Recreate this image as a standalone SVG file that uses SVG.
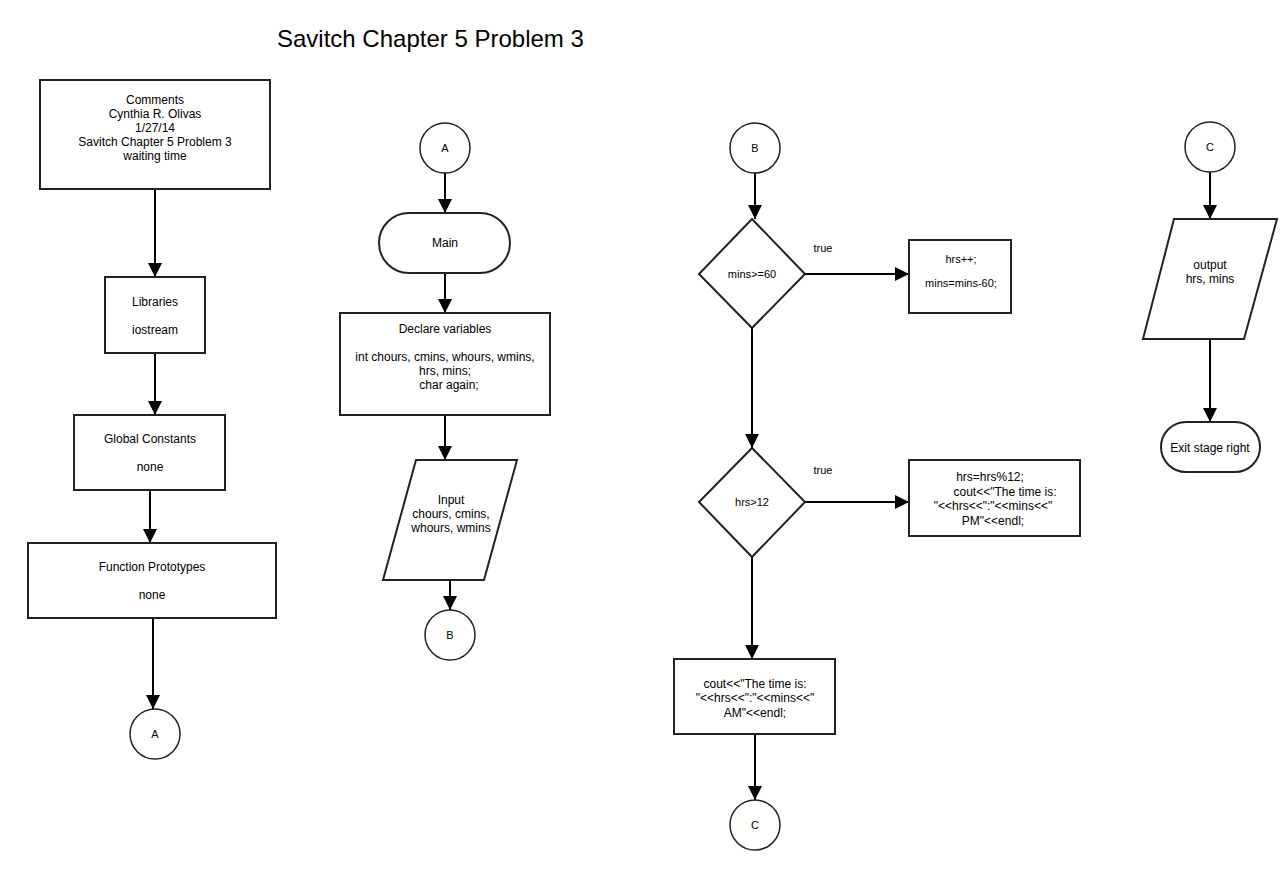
<svg xmlns="http://www.w3.org/2000/svg" width="1280" height="870" viewBox="0 0 1280 870">
<defs>
<marker id="arr" markerUnits="userSpaceOnUse" markerWidth="14" markerHeight="14" refX="14" refY="7" orient="auto"><path d="M0,0 L14,7 L0,14 z" fill="#000"/></marker>
<style>
.box{fill:#fff;stroke:#222;stroke-width:2}
.circ{fill:#fff;stroke:#222;stroke-width:1.5}
.t{font-family:"Liberation Sans",Arial,sans-serif;font-size:12px;fill:#000;text-anchor:middle}
.s{font-family:"Liberation Sans",Arial,sans-serif;font-size:11px;fill:#000;text-anchor:middle}
.title{font-family:"Liberation Sans",Arial,sans-serif;font-size:24px;fill:#000}
.c{stroke:#000;stroke-width:2;fill:none;marker-end:url(#arr)}
</style>
</defs>
<rect width="1280" height="870" fill="#fff"/>
<text class="title" x="277" y="47">Savitch Chapter 5 Problem 3</text>

<g id="connectors">
<line class="c" x1="155" y1="189" x2="155" y2="277"/>
<line class="c" x1="155" y1="353" x2="155" y2="415"/>
<line class="c" x1="150" y1="490" x2="150" y2="543"/>
<line class="c" x1="153" y1="618" x2="153" y2="709"/>
<line class="c" x1="445" y1="173" x2="445" y2="213"/>
<line class="c" x1="445" y1="273" x2="445" y2="313"/>
<line class="c" x1="445" y1="415" x2="445" y2="460"/>
<line class="c" x1="450" y1="580" x2="450" y2="610"/>
<line class="c" x1="755" y1="173" x2="755" y2="219"/>
<line class="c" x1="804" y1="274" x2="909" y2="274"/>
<line class="c" x1="752" y1="328" x2="752" y2="448"/>
<line class="c" x1="804" y1="502" x2="909" y2="502"/>
<line class="c" x1="752" y1="557" x2="752" y2="659"/>
<line class="c" x1="755" y1="734" x2="755" y2="800"/>
<line class="c" x1="1210" y1="172" x2="1210" y2="219"/>
<line class="c" x1="1210" y1="339" x2="1210" y2="422"/>
<text class="s" x="823" y="252">true</text>
<text class="s" x="823" y="474">true</text>
</g>

<g id="comments">
<rect class="box" x="40" y="80" width="230" height="109"/>
<text class="t" x="155" y="104">Comments</text>
<text class="t" x="155" y="118">Cynthia R. Olivas</text>
<text class="t" x="155" y="132">1/27/14</text>
<text class="t" x="155" y="146">Savitch Chapter 5 Problem 3</text>
<text class="t" x="155" y="160">waiting time</text>
</g>
<g id="libraries">
<rect class="box" x="105" y="277" width="100" height="76"/>
<text class="t" x="155" y="306">Libraries</text>
<text class="t" x="155" y="334">iostream</text>
</g>
<g id="globals">
<rect class="box" x="74" y="415" width="151" height="75"/>
<text class="t" x="150" y="443">Global Constants</text>
<text class="t" x="150" y="471">none</text>
</g>
<g id="prototypes">
<rect class="box" x="28" y="543" width="248" height="75"/>
<text class="t" x="152" y="571">Function Prototypes</text>
<text class="t" x="152" y="599">none</text>
</g>
<g id="connA1">
<circle class="circ" cx="155" cy="734" r="25"/>
<text class="s" x="155" y="738">A</text>
</g>

<g id="connA2">
<circle class="circ" cx="445" cy="148" r="25"/>
<text class="s" x="445" y="152">A</text>
</g>
<g id="main">
<rect class="box" x="379" y="213" width="131" height="60" rx="30" ry="30"/>
<text class="t" x="445" y="247">Main</text>
</g>
<g id="declare">
<rect class="box" x="340" y="313" width="210" height="102"/>
<text class="t" x="445" y="333">Declare variables</text>
<text class="t" x="445" y="361">int chours, cmins, whours, wmins,</text>
<text class="t" x="445" y="375">hrs, mins;</text>
<text class="t" x="449" y="389">char again;</text>
</g>
<g id="input">
<polygon class="box" points="416,460 517,460 484,580 383,580"/>
<text class="t" x="451" y="504">Input</text>
<text class="t" x="451" y="518">chours, cmins,</text>
<text class="t" x="451" y="532">whours, wmins</text>
</g>
<g id="connB1">
<circle class="circ" cx="450" cy="635" r="25"/>
<text class="s" x="450" y="639">B</text>
</g>

<g id="connB2">
<circle class="circ" cx="755" cy="148" r="25"/>
<text class="s" x="755" y="152">B</text>
</g>
<g id="dec1">
<polygon class="box" points="752,219 805,274 752,328 699,274"/>
<text class="s" x="752" y="278">mins&gt;=60</text>
</g>
<g id="inc">
<rect class="box" x="909" y="240" width="102" height="73"/>
<text class="s" x="961" y="263">hrs++;</text>
<text class="s" x="961" y="287">mins=mins-60;</text>
</g>
<g id="dec2">
<polygon class="box" points="752,448 805,502 752,557 699,502"/>
<text class="s" x="752" y="506">hrs&gt;12</text>
</g>
<g id="pm">
<rect class="box" x="909" y="460" width="171" height="76"/>
<text class="t" x="990" y="481">hrs=hrs%12;</text>
<text class="t" x="1005" y="496">cout&lt;&lt;"The time is:</text>
<text class="t" x="993" y="510">"&lt;&lt;hrs&lt;&lt;":"&lt;&lt;mins&lt;&lt;"</text>
<text class="t" x="993" y="525">PM"&lt;&lt;endl;</text>
</g>
<g id="am">
<rect class="box" x="674" y="659" width="161" height="75"/>
<text class="t" x="755" y="688">cout&lt;&lt;"The time is:</text>
<text class="t" x="755" y="702">"&lt;&lt;hrs&lt;&lt;":"&lt;&lt;mins&lt;&lt;"</text>
<text class="t" x="755" y="717">AM"&lt;&lt;endl;</text>
</g>
<g id="connC1">
<circle class="circ" cx="755" cy="825" r="25"/>
<text class="s" x="755" y="829">C</text>
</g>

<g id="connC2">
<circle class="circ" cx="1210" cy="147" r="25"/>
<text class="s" x="1210" y="151">C</text>
</g>
<g id="output">
<polygon class="box" points="1174,219 1277,219 1244,339 1143,339"/>
<text class="t" x="1210" y="269">output</text>
<text class="t" x="1210" y="283">hrs, mins</text>
</g>
<g id="exit">
<rect class="box" x="1161" y="422" width="99" height="50" rx="25" ry="25"/>
<text class="t" x="1210" y="452">Exit stage right</text>
</g>
</svg>
